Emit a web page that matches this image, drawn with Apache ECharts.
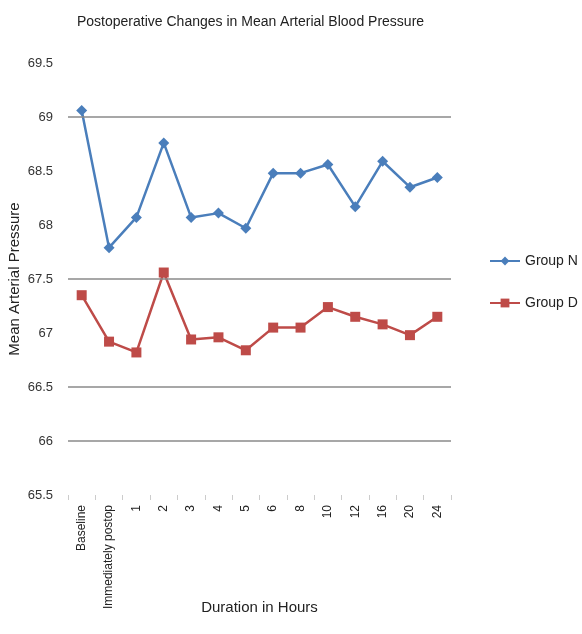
<!DOCTYPE html>
<html lang="en">
<head>
    <meta charset="UTF-8">
    <title>Mean Arterial Pressure</title>
    <style>
        html, body { margin: 0; padding: 0; background: #fff; }
        #chart { width: 582px; height: 634px; }
    </style>
</head>
<body>
    <div id="chart"></div>
    <script src="https://cdn.jsdelivr.net/npm/echarts@6/dist/echarts.min.js"></script>
    <script>
        // time points (x axis)
        var hours = ['Baseline', 'Immediately postop', '1', '2', '3', '4', '5', '6', '8', '10', '12', '16', '20', '24'];
        // mean arterial pressure readings
        var groupN = [69.06, 67.79, 68.07, 68.76, 68.07, 68.11, 67.97, 68.48, 68.48, 68.56, 68.17, 68.59, 68.35, 68.44];
        var groupD = [67.35, 66.92, 66.82, 67.56, 66.94, 66.96, 66.84, 67.05, 67.05, 67.24, 67.15, 67.08, 66.98, 67.15];
        // gridlines that show in the scan
        var gridValues = [69, 67.5, 66.5, 66];

        var chart = echarts.init(document.getElementById('chart'));

        var option = {
            animation: false,
            textStyle: { fontFamily: 'Liberation Sans' },
            title: {
                text: 'Postoperative Changes in Mean Arterial Blood Pressure',
                left: 72,
                top: 10,
                textStyle: { fontSize: 14, fontWeight: 'normal', color: '#222' }
            },
            legend: {
                orient: 'vertical',
                left: 484,
                top: 249,
                itemGap: 28,
                itemWidth: 30,
                itemHeight: 11,
                textStyle: { fontSize: 14, color: '#222' },
                data: ['Group N', 'Group D']
            },
            grid: {
                left: 68,
                right: 131,
                top: 63,
                bottom: 139,
                outerBoundsMode: 'none'
            },
            xAxis: {
                type: 'category',
                data: hours,
                boundaryGap: true,
                name: 'Duration in Hours',
                nameLocation: 'middle',
                nameGap: 105,
                nameMoveOverlap: false,
                nameTextStyle: { fontSize: 15, color: '#222' },
                axisLine: { show: false },
                axisTick: { show: true, length: 5, lineStyle: { color: '#ccc' } },
                axisLabel: {
                    rotate: 90,
                    interval: 0,
                    fontSize: 12,
                    color: '#222',
                    margin: 10
                }
            },
            yAxis: {
                type: 'value',
                min: 65.5,
                max: 69.5,
                interval: 0.5,
                name: 'Mean Arterial Pressure',
                nameLocation: 'middle',
                nameGap: 46,
                nameMoveOverlap: false,
                nameRotate: 90,
                nameTextStyle: { fontSize: 15, color: '#222' },
                axisLine: { show: false },
                axisTick: { show: false },
                splitLine: { show: false },
                axisLabel: {
                    fontSize: 13,
                    color: '#333',
                    margin: 15
                }
            },
            series: [{
                name: 'Group N',
                type: 'line',
                data: groupN,
                symbol: 'diamond',
                symbolSize: 11,
                color: '#4a7ebb',
                lineStyle: { width: 2.5, color: '#4a7ebb' },
                itemStyle: { color: '#4a7ebb' },
                markLine: {
                    silent: true,
                    symbol: 'none',
                    label: { show: false },
                    lineStyle: { color: '#8a8a8a', width: 1.5, type: 'solid' },
                    data: gridValues.map(function(v) { return { yAxis: v }; })
                },
                z: 3
            }, {
                name: 'Group D',
                type: 'line',
                data: groupD,
                symbol: 'rect',
                symbolSize: 10,
                color: '#be4b48',
                lineStyle: { width: 2.5, color: '#be4b48' },
                itemStyle: { color: '#be4b48' },
                z: 3
            }]
        };

        chart.setOption(option);
    </script>
</body>
</html>
